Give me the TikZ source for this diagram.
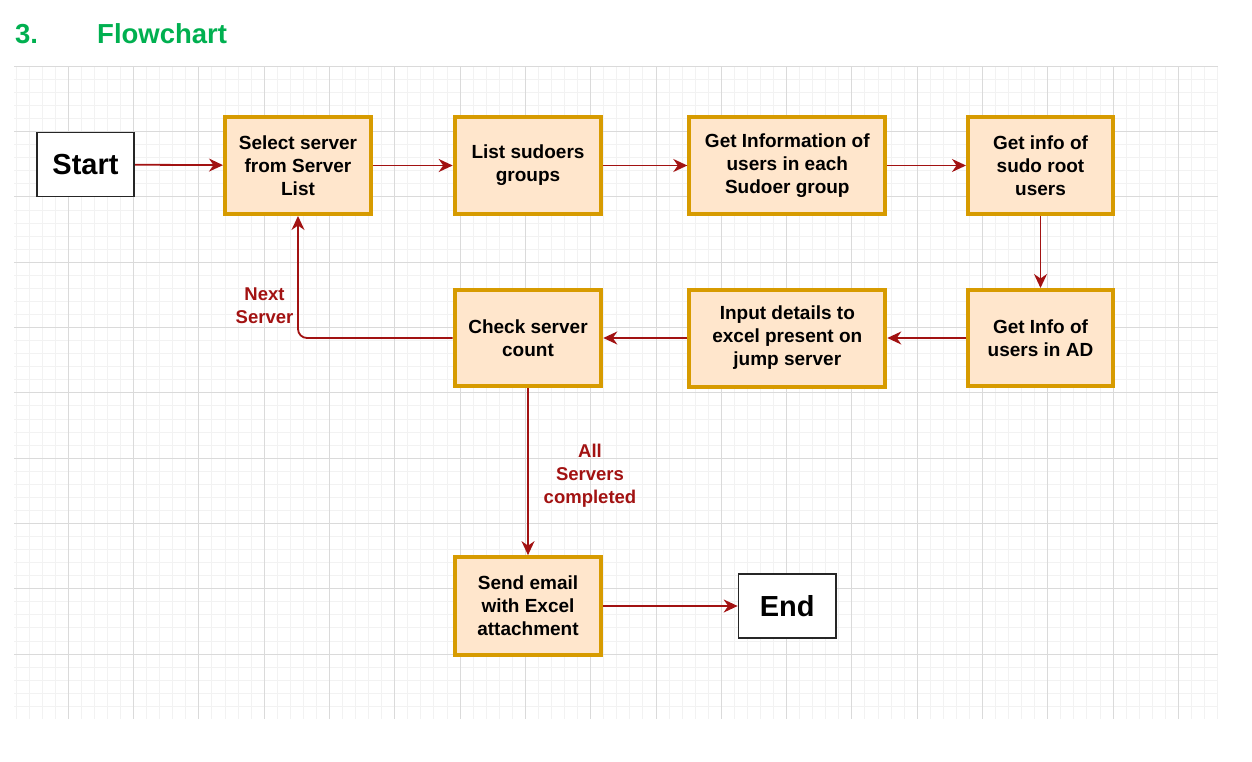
\documentclass[tikz,border=0pt]{standalone}
\usepackage{fontspec}
\setmainfont{Liberation Sans}
\usetikzlibrary{arrows.meta}
\definecolor{boxfill}{HTML}{FFE6CC}
\definecolor{boxline}{HTML}{D79B00}
\definecolor{arrowred}{RGB}{162,18,18}
\definecolor{titlegreen}{HTML}{00B050}
\definecolor{minorgrid}{RGB}{242,242,242}
\definecolor{majorgrid}{RGB}{218,218,218}
\tikzset{
  procbox/.style={draw=boxline, fill=boxfill, line width=4pt, align=center,
    font=\fontsize{19}{23}\selectfont\bfseries, inner sep=0pt},
  termbox/.style={draw=black!85, fill=white, line width=1.7pt, align=center,
    font=\fontsize{29}{34}\selectfont\bfseries, inner sep=0pt},
  flow/.style={draw=arrowred, line width=1.8pt, -{Stealth[length=14pt,width=13pt,inset=4.5pt]}},
  flowlabel/.style={text=arrowred, align=center, font=\fontsize{18.5}{23}\selectfont\bfseries, inner sep=0pt},
}
\begin{document}
\begin{tikzpicture}[x=1pt,y=-1pt]
\useasboundingbox (0,0) rectangle (1252,762);
\fill[white] (0,0) rectangle (1252,762);
% grid
\foreach \i in {0,...,92}{
  \draw[minorgrid, line width=1pt] ({16.06+13.06*\i},66.4) -- ({16.06+13.06*\i},719);
}
\foreach \j in {1,...,49}{
  \draw[minorgrid, line width=1pt] (14,{66.4+13.06*\j}) -- (1218,{66.4+13.06*\j});
}
\foreach \i in {0,...,17}{
  \draw[majorgrid, line width=1pt] ({68.3+65.3*\i},66.4) -- ({68.3+65.3*\i},719);
}
\foreach \j in {0,...,9}{
  \draw[majorgrid, line width=1pt] (14,{66.4+65.3*\j}) -- (1218,{66.4+65.3*\j});
}
% title
\node[anchor=base west, text=titlegreen, font=\fontsize{27.5}{32}\selectfont\bfseries, inner sep=0pt] (num) at (15,44) {3.};
\node[anchor=base west, text=titlegreen, font=\fontsize{27.5}{32}\selectfont\bfseries, inner sep=0pt] (title) at (97,44) {Flowchart};
% nodes
\node[termbox, minimum width=97.4pt, minimum height=64pt] (start) at (85.5,164.5) {Start};
\node[procbox, minimum width=146pt, minimum height=97pt] (select) at (298,165.5) {Select server\\from Server\\List};
\node[procbox, minimum width=146.6pt, minimum height=97pt] (list) at (528,165.5) {List sudoers\\groups};
\node[procbox, minimum width=196pt, minimum height=97pt] (getinfo) at (787.3,165.5) {Get Information of\\users in each\\Sudoer group};
\node[procbox, minimum width=145pt, minimum height=97pt] (sudo) at (1040.5,165.5) {Get info of\\sudo root\\users};
\node[procbox, minimum width=145pt, minimum height=96pt] (ad) at (1040.5,338) {Get Info of\\users in AD};
\node[procbox, minimum width=196pt, minimum height=97pt] (input) at (787.3,338) {Input details to\\excel present on\\jump server};
\node[procbox, minimum width=146.6pt, minimum height=96pt] (check) at (528,338) {Check server\\count};
\node[procbox, minimum width=146.6pt, minimum height=97.7pt] (send) at (528,606) {Send email\\with Excel\\attachment};
\node[termbox, minimum width=97.4pt, minimum height=64.6pt] (end) at (787.2,606) {End};
% labels
\node[flowlabel] (lnext) at (264.5,305.5) {Next\\Server};
\node[flowlabel] (lall) at (590,476) {All\\Servers\\completed};
% connectors
\draw[flow] (start) -- (select);
\draw[flow] (select) -- (list);
\draw[flow] (list) -- (getinfo);
\draw[flow] (getinfo) -- (sudo);
\draw[flow] (sudo) -- (ad);
\draw[flow] (ad) -- (input);
\draw[flow] (input) -- (check);
\draw[flow, rounded corners=9pt] (check.west) -| (select.south);
\draw[flow] (check) -- (send);
\draw[flow] (send) -- (end);
\end{tikzpicture}
\end{document}
